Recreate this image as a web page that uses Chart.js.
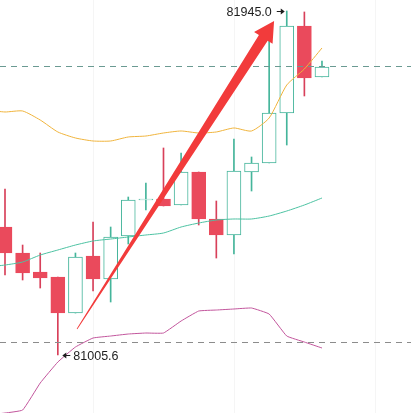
<!DOCTYPE html>
<html>
<head>
<meta charset="utf-8">
<script src="https://cdn.jsdelivr.net/npm/chart.js@4.4.1/dist/chart.umd.min.js"></script>
<style>
    html, body { margin: 0; padding: 0; background: #fff; }
    #wrap { width: 411px; height: 413px; }
</style>
</head>
<body>
<div id="wrap"><canvas id="chart-kline" width="411" height="413"></canvas></div>
<script>
// candles (oldest -> newest)
const opens  = [81355.1, 81284.1, 81232.2, 81218.6, 81120.2, 81275.9, 81213.1, 81330.5, 81428.8, 81431.6,
                81415.2, 81505.3, 81377.0, 81333.3, 81505.3, 81529.9, 81666.4, 81904.0, 81764.8];
const highs  = [81458.9, 81305.9, 81284.1, 81218.6, 81284.1, 81368.8, 81355.1, 81437.0, 81475.3, 81570.9,
                81557.2, 81505.3, 81426.1, 81595.4, 81546.3, 81865.8, 81945.0, 81942.3, 81808.4];
const lows   = [81224.0, 81210.4, 81188.5, 81005.6, 81120.2, 81180.3, 81150.3, 81308.7, 81401.5, 81412.5,
                81415.2, 81360.6, 81270.4, 81281.4, 81453.4, 81529.9, 81579.0, 81712.9, 81764.8];
const closes = [81284.1, 81229.5, 81215.8, 81120.2, 81273.2, 81213.1, 81327.8, 81428.8, 81431.6, 81412.5,
                81505.3, 81377.0, 81333.3, 81508.0, 81529.9, 81666.4, 81904.0, 81762.0, 81792.1];

// bollinger bands, first value belongs to the candle just off the left edge
const bollUpper = [81674.6, 81669.2, 81671.9, 81647.3, 81614.6, 81598.2, 81590.0, 81590.0, 81600.9, 81603.6,
                   81611.8, 81617.3, 81611.8, 81614.6, 81625.5, 81617.3, 81652.8, 81742.9, 81786.6, 81843.9];
const bollMid   = [81245.9, 81251.3, 81259.5, 81278.6, 81292.3, 81305.9, 81316.9, 81322.3, 81327.8, 81333.3,
                   81338.7, 81355.1, 81366.0, 81374.2, 81377.0, 81377.0, 81385.1, 81398.8, 81415.2, 81434.3];
const bollLower = [80841.7, 80847.1, 80855.3, 80929.1, 80986.4, 81027.4, 81052.0, 81057.4, 81062.9, 81065.6,
                   81065.6, 81098.4, 81125.7, 81128.4, 81131.2, 81133.9, 81117.5, 81057.4, 81041.0, 81024.7];

const priceLines = [81794.8, 81041.0];
const gridIdx = [5, 13, 21];
const maxLabel = "81945.0";
const minLabel = "81005.6";
const arrowFrom = [4.09, 81076.5];
const arrowTo = [15.28, 81917.7];

const RED = "#ea4a5c";
const RED_WICK = "#d8405a";
const GREEN = "#45b59b";

const isUp = (i) => closes[i] >= opens[i];
const band = (arr) => arr.map((v, i) => ({ x: i - 1, y: v }));

// small pointer arrow next to the hi/lo labels
function pointer(ctx, xTail, xHead, y) {
    const dir = xHead > xTail ? 1 : -1;
    ctx.beginPath();
    ctx.moveTo(xTail, y);
    ctx.lineTo(xHead - dir * 3, y);
    ctx.stroke();
    ctx.beginPath();
    ctx.moveTo(xHead, y);
    ctx.lineTo(xHead - dir * 4, y - 3);
    ctx.lineTo(xHead - dir * 4, y + 3);
    ctx.closePath();
    ctx.fill();
}

// dashed price lines, arrow and hi/lo labels
const overlayPlugin = {
    id: "overlay",
    beforeDatasetsDraw(chart) {
        const ctx = chart.ctx;
        const xs = chart.scales.x;
        const area = chart.chartArea;
        ctx.save();
        ctx.strokeStyle = "#f5f5f5";
        ctx.lineWidth = 1;
        gridIdx.forEach((g) => {
            const x = Math.round(xs.getPixelForValue(g)) + 0.5;
            ctx.beginPath();
            ctx.moveTo(x, area.top);
            ctx.lineTo(x, area.bottom);
            ctx.stroke();
        });
        ctx.restore();
    },
    afterDatasetsDraw(chart) {
        const ctx = chart.ctx;
        const xs = chart.scales.x;
        const ys = chart.scales.y;
        const area = chart.chartArea;

        ctx.save();
        ctx.lineWidth = 1;
        ctx.setLineDash([6, 5]);
        priceLines.forEach((p, i) => {
            const y = Math.round(ys.getPixelForValue(p)) + 0.5;
            ctx.strokeStyle = i === 0 ? "#6a9a92" : "#8c8c8c";
            ctx.beginPath();
            ctx.moveTo(area.left, y);
            ctx.lineTo(area.right, y);
            ctx.stroke();
        });
        ctx.restore();

        // big red arrow
        const x0 = xs.getPixelForValue(arrowFrom[0]);
        const y0 = ys.getPixelForValue(arrowFrom[1]);
        const x1 = xs.getPixelForValue(arrowTo[0]);
        const y1 = ys.getPixelForValue(arrowTo[1]);
        const len = Math.hypot(x1 - x0, y1 - y0);
        const ux = (x1 - x0) / len, uy = (y1 - y0) / len;
        const nx = -uy, ny = ux;
        const headLen = 20, headW = 11, neck = 5.2, tail = 0.4;
        const bx = x1 - ux * headLen, by = y1 - uy * headLen;
        ctx.save();
        ctx.fillStyle = "#f23b3b";
        ctx.beginPath();
        ctx.moveTo(x0 + nx * tail, y0 + ny * tail);
        ctx.lineTo(bx + nx * neck, by + ny * neck);
        ctx.lineTo(bx + nx * headW, by + ny * headW);
        ctx.lineTo(x1, y1);
        ctx.lineTo(bx - nx * headW, by - ny * headW);
        ctx.lineTo(bx - nx * neck, by - ny * neck);
        ctx.lineTo(x0 - nx * tail, y0 - ny * tail);
        ctx.closePath();
        ctx.fill();
        ctx.restore();

        // max / min labels
        const hi = highs.indexOf(Math.max(...highs));
        const lo = lows.indexOf(Math.min(...lows));
        const hx = xs.getPixelForValue(hi), hy = Math.round(ys.getPixelForValue(highs[hi])) + 0.5;
        const lx = xs.getPixelForValue(lo), ly = Math.round(ys.getPixelForValue(lows[lo])) + 0.5;
        ctx.save();
        ctx.font = '12.5px "Liberation Sans", Arial, sans-serif';
        ctx.fillStyle = "#1e1e1e";
        ctx.strokeStyle = "#1e1e1e";
        ctx.lineWidth = 1;
        ctx.textBaseline = "middle";
        ctx.textAlign = "right";
        ctx.fillText(maxLabel, hx - 15, hy + 1);
        pointer(ctx, hx - 10, hx - 2, hy);
        ctx.textAlign = "left";
        ctx.fillText(minLabel, lx + 15.5, ly + 1);
        pointer(ctx, lx + 12.5, lx + 4.5, ly);
        ctx.restore();
    },
};

new Chart(document.getElementById("chart-kline"), {
    type: "bar",
    data: {
        datasets: [
            {
                type: "line",
                data: band(bollUpper),
                borderColor: "#f0b43c",
                borderWidth: 1,
                pointRadius: 0,
                tension: 0.2,
                order: 1,
            },
            {
                type: "line",
                data: band(bollMid),
                borderColor: "#4cc2a2",
                borderWidth: 1,
                pointRadius: 0,
                tension: 0.2,
                order: 1,
            },
            {
                type: "line",
                data: band(bollLower),
                borderColor: "#c2559c",
                borderWidth: 1,
                pointRadius: 0,
                tension: 0.1,
                order: 1,
            },
            {
                // bodies
                data: opens.map((o, i) => ({ x: i, y: [o, closes[i]] })),
                backgroundColor: (c) => (isUp(c.dataIndex) ? "#fff" : RED),
                borderColor: (c) => (isUp(c.dataIndex) ? GREEN : RED),
                borderWidth: 1,
                borderSkipped: false,
                barThickness: 14,
                grouped: false,
                order: 2,
            },
            {
                // wicks
                data: lows.map((l, i) => ({ x: i, y: [l, highs[i]] })),
                backgroundColor: (c) => (isUp(c.dataIndex) ? GREEN : RED_WICK),
                borderWidth: 0,
                barThickness: 1,
                grouped: false,
                order: 3,
            },
        ],
    },
    options: {
        responsive: false,
        animation: false,
        events: [],
        layout: { padding: 0 },
        plugins: {
            legend: { display: false },
            tooltip: { enabled: false },
        },
        scales: {
            x: { type: "linear", display: false, offset: false, min: -0.284, max: 23.055 },
            y: { display: false, min: 80847.2, max: 81975.0 },
        },
    },
    plugins: [overlayPlugin],
});
</script>
</body>
</html>
